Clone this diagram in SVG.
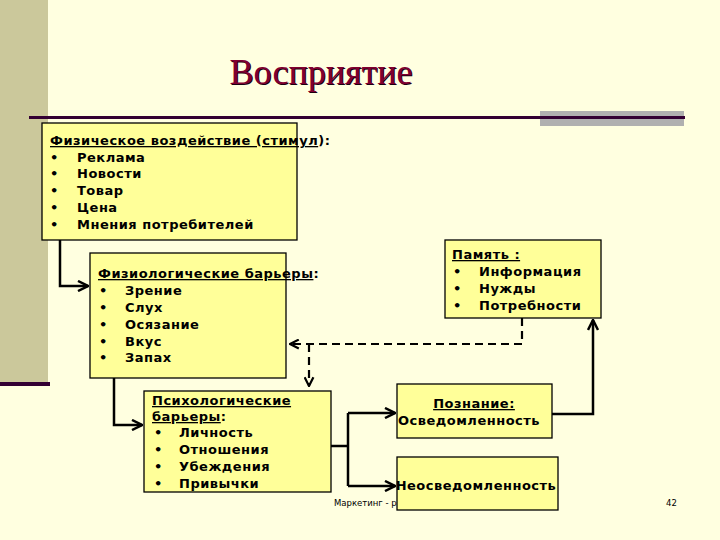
<svg xmlns="http://www.w3.org/2000/svg" width="720" height="540" viewBox="0 0 720 540">
<defs>
<style>
.bx{fill:#FFFF99;stroke:#000;stroke-width:1.3}
.t{font-family:"DejaVu Sans",Verdana,sans-serif;font-size:13px;font-weight:bold;fill:#000;letter-spacing:0.5px}
.u{text-decoration:underline}
.ln{fill:none;stroke:#000;stroke-width:2.5}
.dl{fill:none;stroke:#000;stroke-width:2.2;stroke-dasharray:8,5}
.ft{font-family:"DejaVu Sans",Tahoma,sans-serif;font-size:8.5px;fill:#000}
</style>
<marker id="ah" viewBox="0 0 10 10" refX="9" refY="5" markerWidth="5" markerHeight="5" orient="auto" markerUnits="strokeWidth">
<path d="M1,1 L9,5 L1,9" fill="none" stroke="#000" stroke-width="2"/>
</marker>
</defs>
<rect width="720" height="540" fill="#FFFFE0"/>
<rect x="0" y="0" width="48" height="382" fill="#CBC89B"/>
<rect x="0" y="382" width="50" height="4" fill="#330033"/>
<rect x="540" y="111" width="144" height="15" fill="#B0B0B0"/>
<rect x="29" y="116" width="656" height="3" fill="#330033"/>
<g id="title">
<text x="322" y="85" text-anchor="middle" font-family="Liberation Serif,'Times New Roman',serif" font-size="36" fill="#1a0010">Восприятие</text>
<text x="321" y="84" text-anchor="middle" font-family="Liberation Serif,'Times New Roman',serif" font-size="36" fill="#800030">Восприятие</text>
</g>
<g id="footer">
<text class="ft" x="334" y="506">Маркетинг - р</text>
<text class="ft" x="666" y="506">42</text>
</g>
<g id="connectors">
<polyline class="ln" points="60,240 60,286 88,286" marker-end="url(#ah)"/>
<polyline class="ln" points="114,378 114,425 142,425" marker-end="url(#ah)"/>
<polyline class="ln" points="331,446 348,446"/>
<polyline class="ln" points="348,413 348,486"/>
<polyline class="ln" points="348,413 395,413" marker-end="url(#ah)"/>
<polyline class="ln" points="348,486 395,486" marker-end="url(#ah)"/>
<polyline class="ln" points="552,414 593,414 593,320" marker-end="url(#ah)"/>
<polyline class="dl" points="522,318 522,344 290,344" marker-end="url(#ah)"/>
<polyline class="dl" points="309,344 309,386" marker-end="url(#ah)"/>
</g>
<g id="stimulus">
<rect class="bx" x="42" y="123" width="255" height="117"/>
<text class="t" x="50" y="145"><tspan class="u">Физическое воздействие (стимул</tspan>):</text>
<text class="t" x="50" y="162">•</text><text class="t" x="77" y="162">Реклама</text>
<text class="t" x="50" y="178">•</text><text class="t" x="77" y="178">Новости</text>
<text class="t" x="50" y="195">•</text><text class="t" x="77" y="195">Товар</text>
<text class="t" x="50" y="212">•</text><text class="t" x="77" y="212">Цена</text>
<text class="t" x="50" y="229">•</text><text class="t" x="77" y="229">Мнения потребителей</text>
</g>
<g id="physio">
<rect class="bx" x="90" y="253" width="196" height="125"/>
<text class="t" x="98" y="278"><tspan class="u">Физиологические барьеры</tspan>:</text>
<text class="t" x="99" y="295">•</text><text class="t" x="125" y="295">Зрение</text>
<text class="t" x="99" y="312">•</text><text class="t" x="125" y="312">Слух</text>
<text class="t" x="99" y="329">•</text><text class="t" x="125" y="329">Осязание</text>
<text class="t" x="99" y="346">•</text><text class="t" x="125" y="346">Вкус</text>
<text class="t" x="99" y="362">•</text><text class="t" x="125" y="362">Запах</text>
</g>
<g id="memory">
<rect class="bx" x="445" y="240" width="156" height="78"/>
<text class="t u" x="452" y="259">Память :</text>
<text class="t" x="453" y="276">•</text><text class="t" x="479" y="276">Информация</text>
<text class="t" x="453" y="293">•</text><text class="t" x="479" y="293">Нужды</text>
<text class="t" x="453" y="310">•</text><text class="t" x="479" y="310">Потребности</text>
</g>
<g id="psycho">
<rect class="bx" x="144" y="391" width="187" height="101"/>
<text class="t u" x="152" y="405">Психологические </text>
<text class="t" x="152" y="421"><tspan class="u">барьеры</tspan>:</text>
<text class="t" x="154" y="437">•</text><text class="t" x="179" y="437">Личность</text>
<text class="t" x="154" y="454">•</text><text class="t" x="179" y="454">Отношения</text>
<text class="t" x="154" y="471">•</text><text class="t" x="179" y="471">Убеждения</text>
<text class="t" x="154" y="488">•</text><text class="t" x="179" y="488">Привычки</text>
</g>
<g id="cognition">
<rect class="bx" x="397" y="384" width="155" height="54"/>
<text class="t u" x="474" y="408" text-anchor="middle">Познание:</text>
<text class="t" x="398" y="425">Осведомленность</text>
</g>
<g id="unaware">
<rect class="bx" x="397" y="457" width="161" height="53"/>
<text class="t" x="476" y="490" text-anchor="middle">Неосведомленность</text>
</g>
</svg>
